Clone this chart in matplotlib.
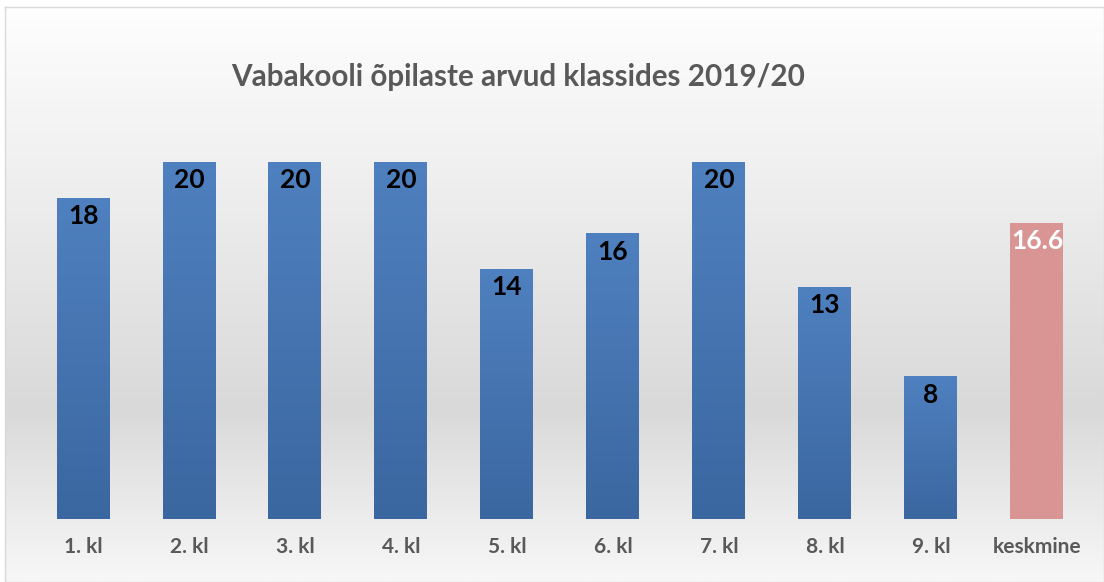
import numpy as np
import matplotlib
matplotlib.use("Agg")
import matplotlib.pyplot as plt
from matplotlib.colors import LinearSegmentedColormap

# data
categories = ["1. kl", "2. kl", "3. kl", "4. kl", "5. kl", "6. kl", "7. kl", "8. kl", "9. kl", "keskmine"]
values = [18, 20, 20, 20, 14, 16, 20, 13, 8, 16.6]
labels = ["18", "20", "20", "20", "14", "16", "20", "13", "8", "16.6"]
title = "Vabakooli õpilaste arvud klassides 2019/20"

plt.rcParams["font.family"] = ["Lato", "DejaVu Sans"]

fig = plt.figure(figsize=(11.04, 5.82), dpi=100)

# chart-area background with vertical grey gradient (bottom -> top)
bg = fig.add_axes([0.0045, 0.0, 0.9955, 0.988], zorder=0)
bg_cmap = LinearSegmentedColormap.from_list(
    "bg", [(0.0, "#f7f7f7"), (0.3, "#d9d9d9"), (0.7, "#efefef"), (1.0, "#fefefe")])
bg.imshow(np.linspace(0, 1, 256).reshape(-1, 1), aspect="auto", cmap=bg_cmap,
          extent=[0, 1, 0, 1], origin="lower")
bg.set_xlim(0, 1); bg.set_ylim(0, 1)
bg.set_xticks([]); bg.set_yticks([])
for s in bg.spines.values():
    s.set_color("#d9d9d9")
    s.set_linewidth(1.0)

ax = fig.add_axes([0.0272, 0.108, 0.96, 0.675], zorder=1)
ax.patch.set_alpha(0)
x = np.arange(len(categories))
colors = ["#4a78b3"] * (len(categories) - 1) + ["#d99594"]
bars = ax.bar(x, values, width=0.5, color=colors, zorder=2)

# subtle vertical gradient on the blue bars
blue_cmap = LinearSegmentedColormap.from_list("blue", ["#3b67a0", "#4f80bf"])
grad = np.linspace(0, 1, 128).reshape(-1, 1)
for b in bars[:-1]:
    im = ax.imshow(grad, extent=[b.get_x(), b.get_x() + b.get_width(), 0, b.get_height()],
                   aspect="auto", cmap=blue_cmap, origin="lower", zorder=3)
    im.set_clip_path(b)

for xi, v, lab in zip(x, values, labels):
    col = "white" if lab == "16.6" else "black"
    ax.text(xi, v - 0.35, lab, ha="center", va="top", fontsize=19, fontweight="bold",
            color=col, zorder=4)

ax.set_xlim(-0.5, len(categories) - 0.5)
ax.set_ylim(0, 22)
ax.set_xticks(x)
ax.set_xticklabels(categories, fontsize=15, fontweight="bold", color="#595959")
ax.tick_params(axis="x", length=0, pad=13)
ax.set_yticks([])
for s in ax.spines.values():
    s.set_visible(False)

fig.text(0.469, 0.868, title, ha="center", va="center", fontsize=21.3, fontweight="bold",
         color="#595959")

fig.savefig("out.png", dpi=100)
